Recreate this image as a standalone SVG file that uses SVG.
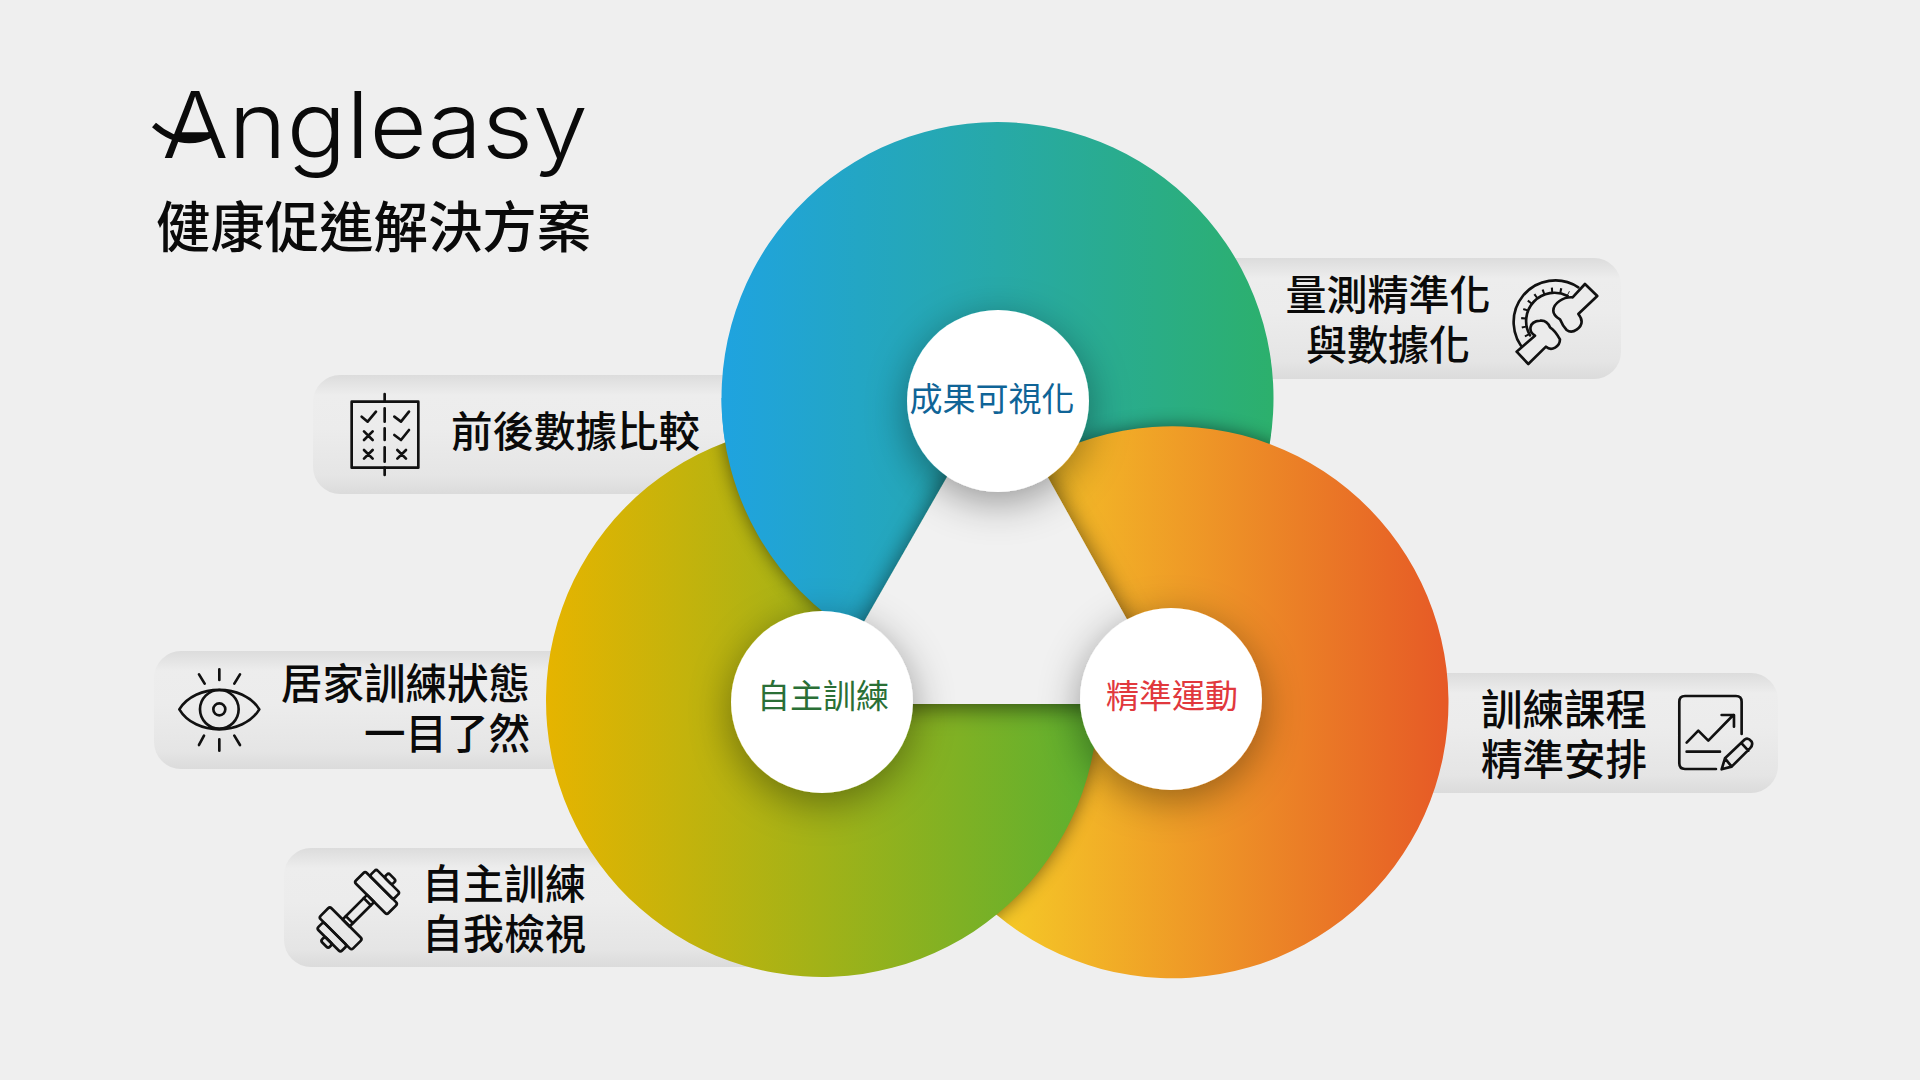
<svg xmlns="http://www.w3.org/2000/svg" xmlns:xlink="http://www.w3.org/1999/xlink" width="1920" height="1080" viewBox="0 0 1920 1080">
<style>
.t{font-family:"Noto Sans CJK TC","Noto Sans CJK SC",sans-serif;font-weight:500;font-size:41px;fill:#0a0a0a}
.c{font-family:"Noto Sans CJK TC","Noto Sans CJK SC",sans-serif;font-size:33px;text-anchor:middle}
.i{fill:none;stroke:#111;stroke-width:8;stroke-linecap:round;stroke-linejoin:round}
.p{fill:url(#pill)}
</style>
<defs>
<linearGradient id="pill" x1="0" y1="0" x2="0" y2="1">
<stop offset="0" stop-color="#dcdcdc"/><stop offset=".17" stop-color="#ededed"/><stop offset=".45" stop-color="#ececec"/><stop offset=".85" stop-color="#e5e5e5"/><stop offset="1" stop-color="#dbdbdb"/>
</linearGradient>
<linearGradient id="gb" gradientUnits="userSpaceOnUse" x1="721" y1="0" x2="1274" y2="0"><stop offset="0" stop-color="#1fa3e0"/><stop offset=".5" stop-color="#27a9a8"/><stop offset="1" stop-color="#2cb06c"/></linearGradient>
<linearGradient id="go" gradientUnits="userSpaceOnUse" x1="1000" y1="0" x2="1449" y2="0"><stop offset="0" stop-color="#f5c927"/><stop offset="1" stop-color="#e65926"/></linearGradient>
<linearGradient id="gg" gradientUnits="userSpaceOnUse" x1="546" y1="0" x2="1098" y2="0"><stop offset="0" stop-color="#e6b400"/><stop offset="1" stop-color="#5cb030"/></linearGradient>
<path id="blue" d="M998 388L856.400 635.300A276 276 0 1 1 1139.300 634.900Z"/>
<path id="blueTop" d="M998 388L856.400 635.300A276 276 0 0 1 721.500 398Z"/>
<path id="orange" d="M1174 704L1038.600 460.900A276 276 0 1 1 896.500 704Z"/>
<path id="green" d="M817 704L1098 704A276 276 0 1 1 956.700 460Z"/>
<clipPath id="cb"><use xlink:href="#blue"/></clipPath>
<clipPath id="co"><use xlink:href="#orange"/></clipPath>
<clipPath id="cg"><use xlink:href="#green"/></clipPath>
<filter id="b" x="-20%" y="-20%" width="140%" height="140%"><feGaussianBlur stdDeviation="9"/></filter>
<filter id="ts" x="-20%" y="-20%" width="140%" height="140%"><feDropShadow dx="0" dy="3" stdDeviation="12" flood-color="#000" flood-opacity=".6"/></filter>
<filter id="ws" x="-40%" y="-40%" width="180%" height="180%"><feDropShadow dx="0" dy="10" stdDeviation="20" flood-color="#000" flood-opacity=".38"/></filter>
</defs>
<rect width="1920" height="1080" fill="#efefef"/>

<g id="title">
<text x="162" y="158" font-family="Inter,sans-serif" font-weight="300" font-size="92" fill="#0a0a0a" textLength="426" lengthAdjust="spacingAndGlyphs">Angleasy</text>
<path d="M154 125C170 139 190 146 212 134" fill="none" stroke="#0a0a0a" stroke-width="6"/>
<text x="156" y="247" font-family="'Noto Sans CJK TC','Noto Sans CJK SC',sans-serif" font-weight="500" font-size="54.400" fill="#0a0a0a">健康促進解決方案</text>
</g>

<g id="pill-measure">
<rect class="p" x="1180" y="258" width="441" height="121" rx="27"/>
<text class="t" x="1388" y="310" text-anchor="middle">量測精準化</text>
<text class="t" x="1388" y="360" text-anchor="middle">與數據化</text>
<g class="i" transform="translate(1220 240) scale(.3333)">
<path d="M918 335A125 125 0 0 1 1075 142"/>
<path d="M923 288A92 92 0 0 1 1046 161" stroke-width="15" stroke-dasharray="6 20" stroke-linecap="butt"/>
<path d="M930 286A85 85 0 0 1 1043 168"/>
<path fill="#ebebeb" d="M1058 172L1095 132L1132 168L1075 222C1080 228 1085 235 1085 245C1085 260 1060 285 1040 270C1030 260 1025 250 1020 238C1010 232 1000 225 1000 212C1000 190 1030 170 1058 172Z"/>
<path fill="#ebebeb" d="M945 287C925 275 925 245 960 242C975 240 985 250 990 262C1000 268 1010 280 1020 298C1020 320 995 335 978 320L925 372L890 335Z"/>
</g>
</g>

<g id="pill-compare">
<rect class="p" x="313" y="375" width="500" height="119" rx="27"/>
<text class="t" x="451" y="447" style="font-size:41.500px">前後數據比較</text>
<g class="i" transform="translate(300 360) scale(.3333)">
<rect x="155" y="125" width="200" height="198"/>
<path d="M254 102V125M254 145V185M254 205V240M254 262V305M254 323V345"/>
<path d="M185 170L203 185L228 155M283 170L303 185L327 155M283 225L303 240L327 210"/>
<path d="M192 214L218 240M218 214L192 240M192 270L218 296M218 270L192 296M292 270L318 296M318 270L292 296"/>
</g>
</g>

<g id="pill-home">
<rect class="p" x="154" y="651" width="500" height="118" rx="27"/>
<text class="t" x="530" y="699" text-anchor="end" style="font-size:41.500px">居家訓練狀態</text>
<text class="t" x="530" y="749" text-anchor="end" style="font-size:41.500px">一目了然</text>
<g class="i" transform="translate(140 640) scale(.3333)">
<path d="M118 208C165 130 310 130 358 208C310 288 165 288 118 208Z"/>
<circle cx="238" cy="208" r="58"/><circle cx="238" cy="208" r="18"/>
<path d="M238 88V120M238 298V332M177 103L194 131M300 103L283 131M177 315L192 287M300 315L283 287"/>
</g>
</g>

<g id="pill-self">
<rect class="p" x="284" y="848" width="520" height="119" rx="27"/>
<text class="t" x="422" y="899">自主訓練</text>
<text class="t" x="422" y="949">自我檢視</text>
<g class="i" transform="translate(270 840) scale(.3333)">
<g transform="translate(265 212) rotate(-45)">
<rect x="-52" y="-15" width="104" height="30"/>
<path d="M-38 -15V15M38 -15V15"/>
<rect x="52" y="-69" width="46" height="138" rx="7"/>
<rect x="98" y="-50" width="28" height="100" rx="7"/>
<rect x="126" y="-16" width="18" height="32" rx="7"/>
<rect x="-98" y="-69" width="46" height="138" rx="7"/>
<rect x="-126" y="-50" width="28" height="100" rx="7"/>
<rect x="-144" y="-16" width="18" height="32" rx="7"/>
</g>
</g>
</g>

<g id="pill-plan">
<rect class="p" x="1330" y="673" width="448" height="120" rx="27"/>
<text class="t" x="1481" y="725" style="font-size:41.500px">訓練課程</text>
<text class="t" x="1481" y="775" style="font-size:41.500px">精準安排</text>
<g class="i" transform="translate(1430 660) scale(.3333)">
<path d="M935 222V125Q935 108 918 108H765Q748 108 748 125V310Q748 327 765 327H858"/>
<path d="M770 248L805 212L835 242L910 165M875 165H912V200M770 275H870"/>
<path d="M875 328L885 295L945 238Q955 232 965 245Q970 255 960 265L905 320ZM885 295L905 320M935 250L955 272"/>
</g>
</g>

<g id="rings">
<use xlink:href="#blue" fill="url(#gb)"/>
<g clip-path="url(#cb)"><use xlink:href="#orange" fill="#000" opacity=".5" filter="url(#b)"/></g>
<use xlink:href="#orange" fill="url(#go)"/>
<g clip-path="url(#co)"><use xlink:href="#green" fill="#000" opacity=".5" filter="url(#b)"/></g>
<use xlink:href="#green" fill="url(#gg)"/>
<g clip-path="url(#cg)"><use xlink:href="#blueTop" fill="#000" opacity=".5" filter="url(#b)"/></g>
<use xlink:href="#blueTop" fill="url(#gb)"/>
<polygon points="998,388 817,704 1174,704" fill="#f1f1f1" filter="url(#ts)"/>
</g>

<g id="node-visual">
<circle cx="998" cy="401" r="91" fill="#fff" filter="url(#ws)"/>
<text class="c" x="992" y="411" fill="#0f6497">成果可視化</text>
</g>
<g id="node-self">
<circle cx="822" cy="702" r="91" fill="#fff" filter="url(#ws)"/>
<text class="c" x="823" y="708" fill="#2a6f36">自主訓練</text>
</g>
<g id="node-precise">
<circle cx="1171" cy="699" r="91" fill="#fff" filter="url(#ws)"/>
<text class="c" x="1172" y="708" fill="#e1383d">精準運動</text>
</g>
</svg>
